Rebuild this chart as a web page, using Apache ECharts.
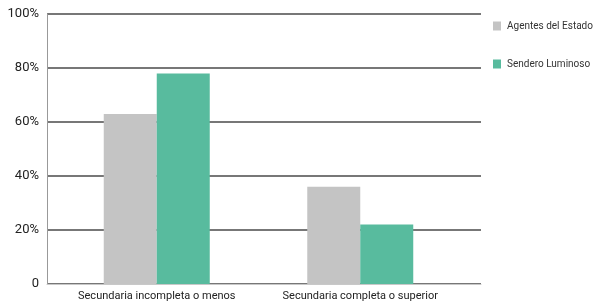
<!DOCTYPE html>
<html>
<head>
<meta charset="utf-8">
<script src="https://cdn.jsdelivr.net/npm/echarts@6/dist/echarts.min.js"></script>
<style>
html, body { margin: 0; padding: 0; background: #fff; }
#chart { width: 594px; height: 305px; }
</style>
</head>
<body>
<div id="chart"></div>
<script>
var categories = ['Secundaria incompleta o menos', 'Secundaria completa o superior'];
var agentes = [63, 36];
var sendero = [78, 22];
var seriesNames = ['Agentes del Estado', 'Sendero Luminoso'];

var font = 'Roboto, "Liberation Sans", sans-serif';
var myChart = echarts.init(document.getElementById('chart'));
var option = {
    animation: false,
    legend: {
        orient: 'vertical',
        left: 493,
        top: 21,
        padding: 0,
        itemWidth: 8,
        itemHeight: 9,
        itemGap: 28,
        icon: 'rect',
        textStyle: { fontFamily: font, fontSize: 10, color: '#333', padding: [0, 0, 0, 1] },
        data: seriesNames
    },
    grid: [
        // frame: y axis, split lines, baseline
        { left: 47, right: 113, top: 14, bottom: 21, outerBoundsMode: 'none', containLabel: false },
        // bars sit a little inside the frame
        { left: 55, right: 132, top: 14, bottom: 21, outerBoundsMode: 'none', containLabel: false }
    ],
    xAxis: [
        {
            gridIndex: 0, type: 'category', data: categories,
            axisLine: { lineStyle: { color: '#c8c8c8', width: 1 } },
            axisTick: { show: false },
            axisLabel: { show: false }
        },
        {
            gridIndex: 1, type: 'category', data: categories,
            axisLine: { show: false },
            axisTick: { show: false },
            axisLabel: { interval: 0, fontFamily: font, fontSize: 11, color: '#222', margin: 7 }
        }
    ],
    yAxis: [
        {
            gridIndex: 0, type: 'value', min: 0, max: 100, interval: 20,
            axisLine: { show: true, lineStyle: { color: '#999', width: 1 } },
            axisTick: { show: false },
            splitLine: { lineStyle: { color: '#777', width: 2 } },
            axisLabel: {
                fontFamily: font, fontSize: 13, color: '#222', margin: 8,
                formatter: function (v) { return v === 0 ? '0' : v + '%'; }
            }
        },
        {
            gridIndex: 1, type: 'value', min: 0, max: 100, interval: 20,
            show: false
        }
    ],
    series: [
        {
            name: seriesNames[0], type: 'bar', data: agentes,
            xAxisIndex: 1, yAxisIndex: 1,
            barWidth: 53, barGap: 0,
            itemStyle: { color: '#c4c4c4' }
        },
        {
            name: seriesNames[1], type: 'bar', data: sendero,
            xAxisIndex: 1, yAxisIndex: 1,
            barWidth: 53, barGap: 0,
            itemStyle: { color: '#58bb9e' }
        }
    ]
};
myChart.setOption(option);
</script>
</body>
</html>
